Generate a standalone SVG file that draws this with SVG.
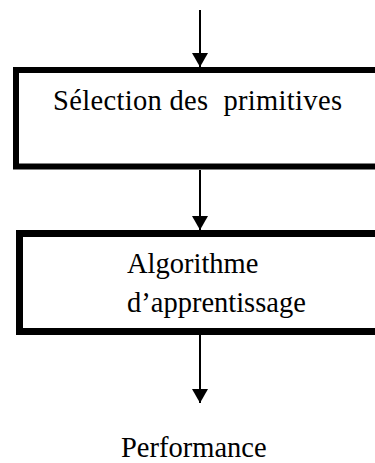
<svg xmlns="http://www.w3.org/2000/svg" width="375" height="463" viewBox="0 0 375 463">
  <style>
    .box { fill: #ffffff; stroke: #000000; }
    .lbl { font-family: "Liberation Serif", "Times New Roman", serif; font-size: 28.5px; fill: #000000; }
    .conn { stroke: #000000; stroke-width: 2; fill: none; }
  </style>
  <defs>
    <marker id="arrow" markerUnits="userSpaceOnUse" markerWidth="16" markerHeight="17" refX="14" refY="8" orient="auto">
      <path d="M0,0 L14,8 L0,16 Z" fill="#000000"/>
    </marker>
  </defs>
  <rect width="375" height="463" fill="#ffffff"/>

  <g id="connectors">
    <line class="conn" x1="200" y1="10" x2="200" y2="67" marker-end="url(#arrow)"/>
    <line class="conn" x1="200" y1="170" x2="200" y2="230" marker-end="url(#arrow)"/>
    <line class="conn" x1="200" y1="335" x2="200" y2="403" marker-end="url(#arrow)"/>
  </g>

  <g id="selection">
    <rect class="box" x="16" y="70" width="400" height="96.5" stroke-width="6"/>
    <text class="lbl" x="53" y="110" xml:space="preserve" textLength="289" lengthAdjust="spacing">Sélection des  primitives</text>
  </g>

  <g id="algorithme">
    <rect class="box" x="19.5" y="233.5" width="400" height="98" stroke-width="7"/>
    <text class="lbl" x="127" y="273">Algorithme</text>
    <text class="lbl" x="127" y="312">d’apprentissage</text>
  </g>

  <g id="performance">
    <text class="lbl" x="121" y="457">Performance</text>
  </g>
</svg>
